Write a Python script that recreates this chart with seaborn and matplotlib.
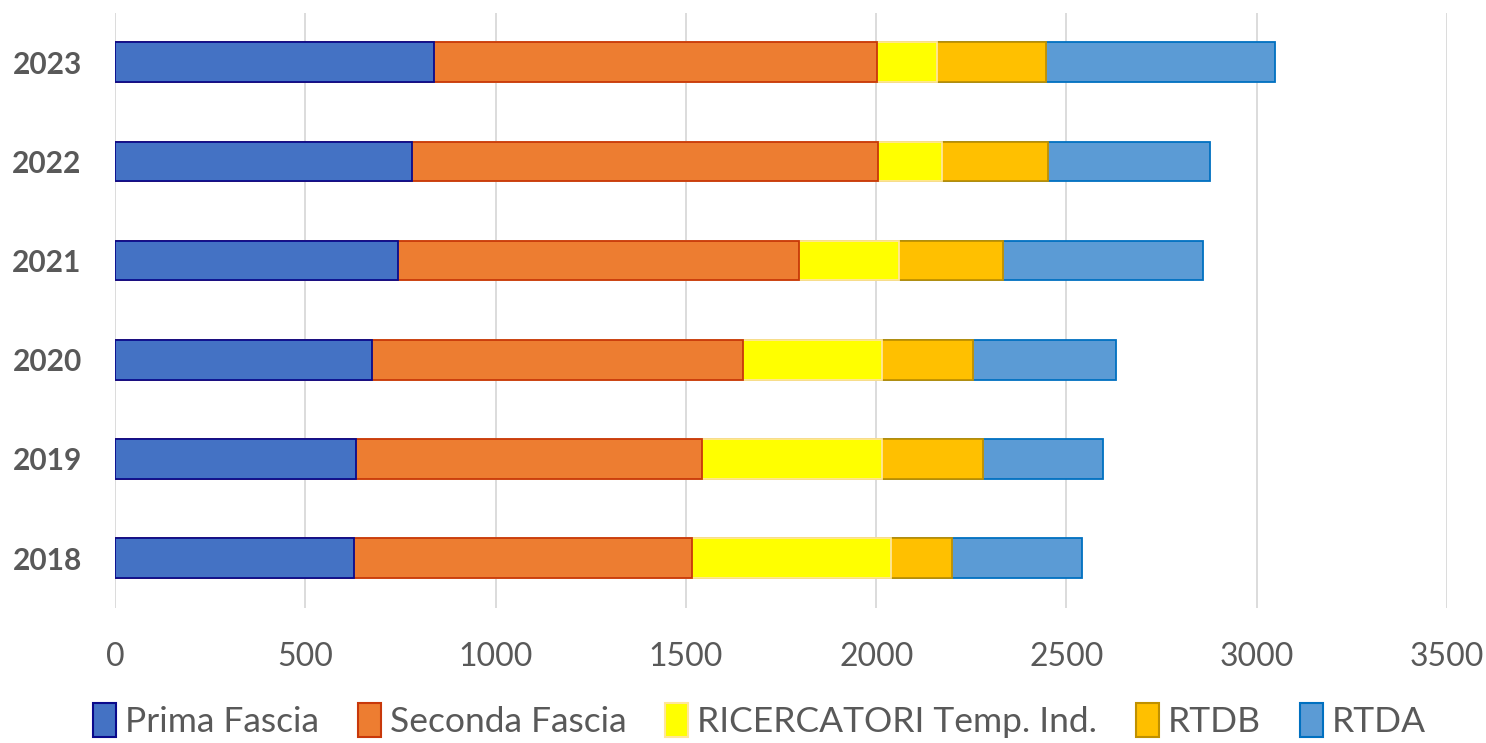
import numpy as np
import pandas as pd
import matplotlib
matplotlib.use("Agg")
import matplotlib.pyplot as plt
import seaborn as sns
from matplotlib.patches import Patch

# dati
anni = ["2023", "2022", "2021", "2020", "2019", "2018"]
serie = ["Prima Fascia", "Seconda Fascia", "RICERCATORI Temp. Ind.", "RTDB", "RTDA"]
prima_fascia = [838, 780, 743, 676, 633, 627]
seconda_fascia = [1165, 1225, 1055, 974, 910, 889]
ricercatori = [157, 168, 261, 364, 473, 524]
rtdb = [285, 278, 273, 241, 264, 159]
rtda = [604, 426, 527, 376, 316, 342]

colori = ["#4472C4", "#ED7D31", "#FFFF00", "#FFC000", "#5B9BD5"]
bordi = ["#0A0A8C", "#C8380A", "#FFE699", "#BF9000", "#0070C0"]
grigio = "#595959"

valori = np.array([prima_fascia, seconda_fascia, ricercatori, rtdb, rtda])
cumulati = valori.cumsum(axis=0)

df = pd.DataFrame({
    "anno": np.tile(anni, len(serie)),
    "serie": np.repeat(serie, len(anni)),
    "cum": cumulati.ravel(),
})

sns.set_style("white")
plt.rcParams["font.family"] = ["Lato", "DejaVu Sans"]

fig, ax = plt.subplots(figsize=(14.86, 7.43), dpi=100)
fig.subplots_adjust(left=0.0774, right=0.9738, top=0.983, bottom=0.182)

ax.set_axisbelow(True)
ax.grid(axis="x", color="#D9D9D9", linewidth=1.3)

# barre impilate: si disegnano i totali cumulati dal piu' lungo al piu' corto
for i in range(len(serie) - 1, -1, -1):
    sub = df[df["serie"] == serie[i]]
    sns.barplot(data=sub, x="cum", y="anno", order=anni, orient="h",
                color=colori[i], edgecolor=bordi[i], linewidth=1.3,
                width=0.4, saturation=1, ax=ax, zorder=3)

ax.set_xlim(0, 3500)
ax.set_xticks(np.arange(0, 3501, 500))
ax.set_xlabel("")
ax.set_ylabel("")
sns.despine(ax=ax, left=True, bottom=True)
ax.tick_params(axis="x", length=0, pad=25, labelsize=23, labelcolor=grigio)
ax.tick_params(axis="y", length=0, pad=24, labelsize=21.5, labelcolor=grigio)
for t in ax.get_yticklabels():
    t.set_fontweight("bold")

handles = [Patch(facecolor=c, edgecolor=e, linewidth=1.5) for c, e in zip(colori, bordi)]
fig.legend(handles, serie, loc="center", bbox_to_anchor=(0.511, 0.03), ncol=5,
           frameon=False, fontsize=25.5, labelcolor=grigio, handlelength=0.65,
           handleheight=1.1, handletextpad=0.25, columnspacing=1.1)

fig.savefig("out.png", dpi=100)
